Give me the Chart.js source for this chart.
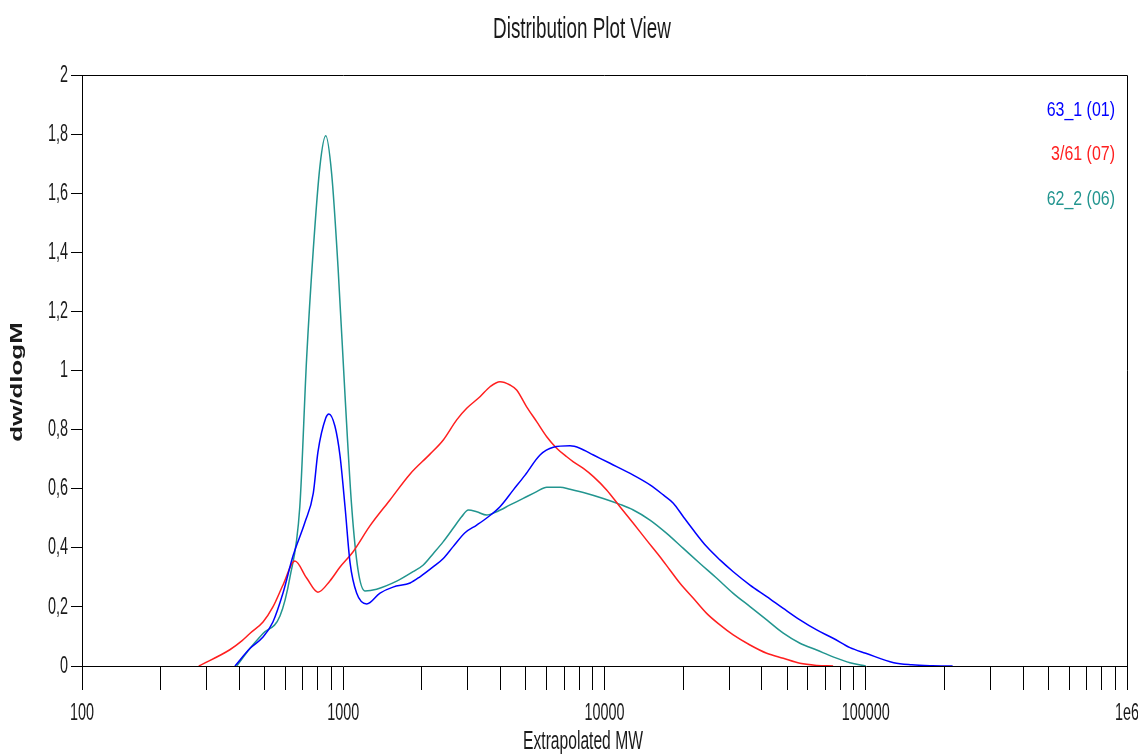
<!DOCTYPE html>
<html>
<head>
<meta charset="utf-8">
<script src="https://cdn.jsdelivr.net/npm/chart.js@4.4.1/dist/chart.umd.min.js"></script>
<style>
  html, body { margin: 0; padding: 0; background: #fff; }
  #wrap { width: 1138px; height: 756px; position: relative; }
</style>
</head>
<body>
<div id="wrap"><canvas id="distChart"></canvas></div>
<script>
// 63_1 (01)
const mw631 = [385, 440, 493, 538, 588, 642, 714, 768, 800, 857, 881, 929, 972, 1016, 1062, 1125, 1230, 1383, 1550, 1803, 1967, 2213, 2415, 2634, 2924, 3243, 3592, 3981, 4478, 4966, 5665, 6370, 7380, 8050, 9070, 10500, 12890, 14930, 16790, 18340, 20030, 21880, 24600, 27660, 31100, 36050, 41780, 48350, 56000, 64900, 75000, 87000, 100000, 128000, 150000, 180000, 215000];
const dw631 = [0, 0.06, 0.098, 0.149, 0.247, 0.372, 0.487, 0.585, 0.724, 0.839, 0.853, 0.812, 0.711, 0.538, 0.349, 0.247, 0.21, 0.247, 0.267, 0.281, 0.302, 0.336, 0.364, 0.404, 0.451, 0.477, 0.505, 0.539, 0.596, 0.646, 0.714, 0.74, 0.745, 0.737, 0.714, 0.686, 0.646, 0.613, 0.579, 0.551, 0.505, 0.46, 0.404, 0.359, 0.319, 0.274, 0.235, 0.195, 0.156, 0.122, 0.094, 0.062, 0.043, 0.011, 0.004, 0.001, 0];

// 3/61 (07)
const mw361 = [280, 368, 409, 439, 493, 538, 588, 653, 724, 800, 889, 972, 1089, 1265, 1510, 1803, 2148, 2415, 2718, 2969, 3337, 3646, 3981, 4350, 4610, 5035, 5500, 6010, 6560, 7170, 7600, 8300, 9070, 10190, 11460, 12890, 14490, 16300, 17800, 19450, 21880, 24600, 27660, 31100, 36050, 41780, 48350, 56000, 65000, 75000];
const dw361 = [0, 0.055, 0.085, 0.11, 0.149, 0.2, 0.274, 0.355, 0.298, 0.25, 0.288, 0.335, 0.386, 0.474, 0.562, 0.65, 0.717, 0.765, 0.833, 0.872, 0.911, 0.945, 0.962, 0.951, 0.934, 0.877, 0.827, 0.776, 0.737, 0.708, 0.691, 0.669, 0.641, 0.596, 0.539, 0.483, 0.426, 0.37, 0.325, 0.28, 0.229, 0.178, 0.139, 0.105, 0.071, 0.043, 0.026, 0.009, 0.002, 0];

// 62_2 (06)
const mw622 = [391, 440, 493, 573, 625, 682, 724, 768, 814, 857, 903, 955, 1016, 1077, 1139, 1210, 1342, 1602, 1850, 2025, 2213, 2415, 2634, 2838, 3012, 3243, 3539, 3867, 4350, 4886, 5500, 6010, 6760, 7380, 8560, 9890, 11460, 12890, 14930, 17300, 20030, 23200, 26900, 31100, 36050, 41780, 48350, 56000, 64900, 75000, 87000, 100000];
const dw622 = [0, 0.06, 0.11, 0.17, 0.30, 0.54, 1.04, 1.41, 1.69, 1.794, 1.665, 1.35, 0.914, 0.54, 0.325, 0.254, 0.26, 0.287, 0.319, 0.342, 0.381, 0.421, 0.466, 0.505, 0.528, 0.522, 0.511, 0.522, 0.545, 0.567, 0.59, 0.605, 0.605, 0.598, 0.584, 0.567, 0.547, 0.528, 0.494, 0.449, 0.398, 0.347, 0.297, 0.246, 0.201, 0.156, 0.111, 0.077, 0.054, 0.031, 0.011, 0];

const seriesNames = ['63_1 (01)', '3/61 (07)', '62_2 (06)'];
const seriesColors = ['#0000ff', '#ff1f1f', '#22958f'];

const xDecades = [100, 1000, 10000, 100000, 1000000];
const xTickLabels = ['100', '1000', '10000', '100000', '1e6'];
const yTickValues = [0, 0.2, 0.4, 0.6, 0.8, 1, 1.2, 1.4, 1.6, 1.8, 2];
const yTickLabels = ['0', '0,2', '0,4', '0,6', '0,8', '1', '1,2', '1,4', '1,6', '1,8', '2'];

const FONT = "'Liberation Sans', Arial, sans-serif";
const TEXT = '#1a1a1a';

function toPoints(xs, ys) {
    return xs.map((x, i) => ({x: x, y: ys[i]}));
}

// squeezed text, the reference is stretched tall
function squeezeText(ctx, text, x, y, size, sx, align, color, weight) {
    ctx.save();
    ctx.translate(x, y);
    ctx.scale(sx, 1);
    ctx.font = (weight || 'normal') + ' ' + size + 'px ' + FONT;
    ctx.fillStyle = color;
    ctx.textAlign = align;
    ctx.textBaseline = 'middle';
    ctx.fillText(text, 0, 0);
    ctx.restore();
}

const textPlugin = {
    id: 'textPlugin',
    afterDraw(chart) {
        const ctx = chart.ctx;
        const a = chart.chartArea;
        const xs = chart.scales.x;
        const ys = chart.scales.y;

        // top and right frame
        ctx.save();
        ctx.strokeStyle = '#000';
        ctx.lineWidth = 1;
        ctx.beginPath();
        ctx.moveTo(a.left, Math.round(a.top) + 0.5);
        ctx.lineTo(Math.round(a.right) + 0.5, Math.round(a.top) + 0.5);
        ctx.lineTo(Math.round(a.right) + 0.5, a.bottom);
        ctx.stroke();
        ctx.restore();

        // tick labels
        xDecades.forEach((v, i) => {
            squeezeText(ctx, xTickLabels[i], xs.getPixelForValue(v), 713, 24, 0.6, 'center', TEXT);
        });
        yTickValues.forEach((v, i) => {
            squeezeText(ctx, yTickLabels[i], 68, ys.getPixelForValue(v), 24, 0.6, 'right', TEXT);
        });

        // titles
        squeezeText(ctx, 'Distribution Plot View', 582, 30, 29, 0.65, 'center', TEXT);
        squeezeText(ctx, 'Extrapolated MW', 583, 742, 25, 0.625, 'center', TEXT);

        ctx.save();
        ctx.translate(18, 382);
        ctx.rotate(-Math.PI / 2);
        ctx.scale(1.62, 1);
        ctx.font = 'bold 16px ' + FONT;
        ctx.fillStyle = TEXT;
        ctx.textAlign = 'center';
        ctx.textBaseline = 'middle';
        ctx.fillText('dw/dlogM', 0, 0);
        ctx.restore();

        // legend
        const legendY = [110, 154, 199];
        seriesNames.forEach((n, i) => {
            squeezeText(ctx, n, 1115, legendY[i], 21, 0.76, 'right', seriesColors[i]);
        });
    }
};

const datasets = [
    {label: seriesNames[0], data: toPoints(mw631, dw631), borderColor: seriesColors[0]},
    {label: seriesNames[1], data: toPoints(mw361, dw361), borderColor: seriesColors[1]},
    {label: seriesNames[2], data: toPoints(mw622, dw622), borderColor: seriesColors[2]}
].map(d => Object.assign(d, {
    borderWidth: 1.5,
    pointRadius: 0,
    fill: false,
    cubicInterpolationMode: 'monotone'
}));

new Chart(document.getElementById('distChart').getContext('2d'), {
    type: 'line',
    data: {datasets: datasets},
    plugins: [textPlugin],
    options: {
        responsive: true,
        maintainAspectRatio: false,
        animation: false,
        layout: {padding: {top: 75, right: 11, left: 0, bottom: 0}},
        plugins: {legend: {display: false}, tooltip: {enabled: false}, title: {display: false}},
        scales: {
            x: {
                type: 'logarithmic',
                min: 100,
                max: 1000000,
                afterBuildTicks: s => {
                    const t = [];
                    xDecades.forEach(d => {
                        for (let k = 1; k <= 9; k++) {
                            if (d * k <= 1000000) t.push({value: d * k});
                        }
                    });
                    s.ticks = t;
                },
                afterFit: s => { s.height = 90; },
                ticks: {display: false, autoSkip: false},
                grid: {drawOnChartArea: false, drawTicks: true, tickLength: 24, color: '#000', lineWidth: 1},
                border: {display: true, color: '#000', width: 1}
            },
            y: {
                min: 0,
                max: 2,
                afterBuildTicks: s => { s.ticks = yTickValues.map(v => ({value: v})); },
                afterFit: s => { s.width = 82; },
                ticks: {display: false},
                grid: {drawOnChartArea: false, drawTicks: true, tickLength: 11, color: '#000', lineWidth: 1},
                border: {display: true, color: '#000', width: 1}
            }
        }
    }
});
</script>
</body>
</html>
